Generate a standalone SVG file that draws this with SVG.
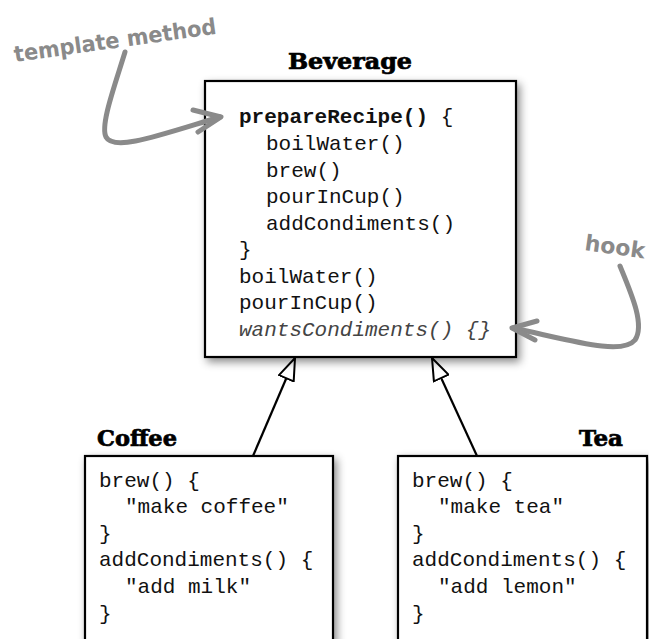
<svg xmlns="http://www.w3.org/2000/svg" width="649" height="639" viewBox="0 0 649 639">
<defs>
<filter id="sh" x="-10%" y="-10%" width="130%" height="130%">
<feDropShadow dx="3" dy="4" stdDeviation="4" flood-color="#000" flood-opacity="0.45"/>
</filter>
<marker id="tri" viewBox="0 0 24 18" refX="23" refY="9" markerWidth="24" markerHeight="18" markerUnits="userSpaceOnUse" orient="auto">
<path d="M1,1 L23,9 L1,17 Z" fill="#fff" stroke="#000" stroke-width="2" stroke-linejoin="miter"/>
</marker>
</defs>
<style>
.box{fill:#fff;stroke:#000;stroke-width:2.2}
.title{font-family:"DejaVu Serif",serif;font-weight:bold;font-size:22px;fill:#000;stroke:#000;stroke-width:0.7}
.code{font-family:"Liberation Mono","Courier New",monospace;font-size:21px;fill:#111}
.b{font-weight:bold}
.it{font-style:italic;fill:#444}
.note{font-family:"DejaVu Sans",sans-serif;font-weight:bold;font-size:22px;fill:#8a8a8a}
.curve{fill:none;stroke:#8a8a8a;stroke-width:5;stroke-linecap:round;stroke-linejoin:round}
.gen{stroke:#000;stroke-width:2.2;fill:none}
</style>
<rect width="649" height="639" fill="#fff"/>

<g id="connectors">
<line class="gen" x1="253" y1="456" x2="295" y2="358" marker-end="url(#tri)"/>
<line class="gen" x1="477" y1="456" x2="432" y2="358" marker-end="url(#tri)"/>
</g>

<g id="beverage">
<rect class="box" x="205" y="81" width="311" height="276" filter="url(#sh)"/>
<text class="title" x="350" y="69" text-anchor="middle" textLength="124" lengthAdjust="spacingAndGlyphs">Beverage</text>
<text class="code b" x="239" y="123">prepareRecipe()<tspan font-weight="normal"> {</tspan></text>
<text class="code" x="266" y="150">boilWater()</text>
<text class="code" x="266" y="176.5">brew()</text>
<text class="code" x="266" y="203">pourInCup()</text>
<text class="code" x="266" y="230">addCondiments()</text>
<text class="code" x="239" y="256">}</text>
<text class="code" x="239" y="283">boilWater()</text>
<text class="code" x="239" y="309">pourInCup()</text>
<text class="code it" x="239" y="336">wantsCondiments() {}</text>
</g>

<g id="coffee">
<rect class="box" x="85" y="456" width="248" height="200" filter="url(#sh)"/>
<text class="title" x="97" y="446" textLength="80" lengthAdjust="spacingAndGlyphs">Coffee</text>
<text class="code" x="99" y="487">brew() {</text>
<text class="code" x="125" y="513">"make coffee"</text>
<text class="code" x="99" y="540">}</text>
<text class="code" x="99" y="566">addCondiments() {</text>
<text class="code" x="125" y="593">"add milk"</text>
<text class="code" x="99" y="620">}</text>
</g>

<g id="tea">
<rect class="box" x="398" y="456" width="249" height="200" filter="url(#sh)"/>
<text class="title" x="623" y="446" text-anchor="end" textLength="44" lengthAdjust="spacingAndGlyphs">Tea</text>
<text class="code" x="412" y="487">brew() {</text>
<text class="code" x="438" y="513">"make tea"</text>
<text class="code" x="412" y="540">}</text>
<text class="code" x="412" y="566">addCondiments() {</text>
<text class="code" x="438" y="593">"add lemon"</text>
<text class="code" x="412" y="620">}</text>
</g>

<g id="template-note">
<text class="note" transform="translate(15,62) rotate(-8)" textLength="204" lengthAdjust="spacingAndGlyphs">template method</text>
<path class="curve" d="M125,52 C115,85 100,125 106,137 C114,152 160,135 220,117"/>
<path class="curve" d="M193,110 L221,117 L198,132"/>
</g>

<g id="hook-note">
<text class="note" transform="translate(584,250) rotate(8)" font-size="19">hook</text>
<path class="curve" d="M620,266 C632,295 645,325 635,340 C622,356 570,340 513,328"/>
<path class="curve" d="M537,321 L512,328 L535,340"/>
</g>
</svg>
